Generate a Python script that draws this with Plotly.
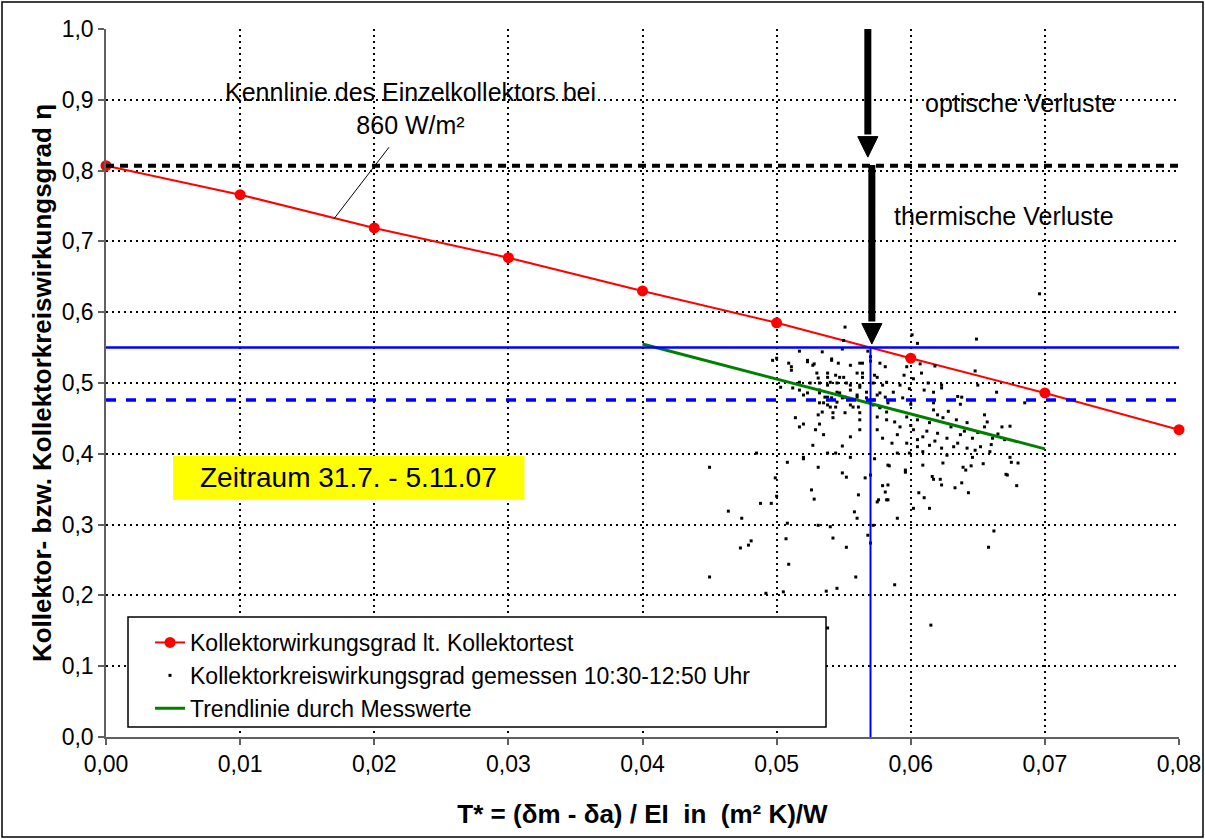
import plotly.graph_objects as go

# ---- data ----
test_x = [0.00, 0.01, 0.02, 0.03, 0.04, 0.05, 0.06, 0.07, 0.08]
test_eta = [0.807, 0.766, 0.719, 0.677, 0.630, 0.585, 0.535, 0.486, 0.434]

trend_x = [0.04, 0.07]
trend_eta = [0.555, 0.407]

meas_x = [
    0.0551, 0.0649, 0.0605, 0.0517, 0.0534, 0.0549, 0.0500, 0.0509, 0.0523, 0.0541,
    0.0528, 0.0555, 0.0562, 0.0570, 0.0581, 0.0597, 0.0608, 0.0648, 0.0511, 0.0538,
    0.0547, 0.0564, 0.0575, 0.0531, 0.0517, 0.0525, 0.0540, 0.0552, 0.0562, 0.0582,
    0.0592, 0.0623, 0.0503, 0.0512, 0.0532, 0.0545, 0.0555, 0.0567, 0.0577, 0.0587,
    0.0617, 0.0520, 0.0538, 0.0549, 0.0560, 0.0572, 0.0583, 0.0594, 0.0638, 0.0664,
    0.0685, 0.0535, 0.0540, 0.0557, 0.0545, 0.0577, 0.0617, 0.0617, 0.0514, 0.0531,
    0.0542, 0.0551, 0.0562, 0.0575, 0.0582, 0.0597, 0.0605, 0.0614, 0.0624, 0.0634,
    0.0642, 0.0657, 0.0668, 0.0674, 0.0517, 0.0529, 0.0562, 0.0575, 0.0590, 0.0602,
    0.0609, 0.0620, 0.0627, 0.0637, 0.0646, 0.0661, 0.0535, 0.0555, 0.0579, 0.0527,
    0.0586, 0.0597, 0.0605, 0.0614, 0.0623, 0.0632, 0.0642, 0.0652, 0.0659, 0.0590,
    0.0599, 0.0609, 0.0627, 0.0646, 0.0674, 0.0508, 0.0520, 0.0538, 0.0555, 0.0531,
    0.0583, 0.0596, 0.0609, 0.0624, 0.0639, 0.0675, 0.0680, 0.0549, 0.0552, 0.0570,
    0.0617, 0.0622, 0.0623, 0.0638, 0.0672, 0.0679, 0.0579, 0.0583, 0.0581, 0.0526,
    0.0561, 0.0606, 0.0610, 0.0643, 0.0583, 0.0575, 0.0614, 0.0560, 0.0590, 0.0499,
    0.0488, 0.0496, 0.0500, 0.0520, 0.0532, 0.0549, 0.0485, 0.0544, 0.0450, 0.0520,
    0.0566, 0.0528, 0.0464, 0.0474, 0.0508, 0.0531, 0.0540, 0.0568, 0.0572, 0.0570,
    0.0507, 0.0542, 0.0552, 0.0481, 0.0473, 0.0509, 0.0450, 0.0559, 0.0588, 0.0492,
    0.0505, 0.0537, 0.0545, 0.0538, 0.0576, 0.0582, 0.0573, 0.0584, 0.0596, 0.0602,
    0.0662, 0.0658, 0.0615, 0.0696, 0.0601, 0.0607, 0.0641, 0.0645, 0.0654, 0.0671,
    0.0616, 0.0633, 0.0595, 0.0602, 0.0618, 0.0613, 0.0610, 0.0623, 0.0635, 0.0650,
    0.0637, 0.0628, 0.0620, 0.0655, 0.0599, 0.0600, 0.0497, 0.0511, 0.0523, 0.0527,
    0.0541, 0.0546, 0.0564, 0.0570, 0.0577, 0.0530, 0.0538, 0.0544, 0.0550, 0.0560,
    0.0564, 0.0573, 0.0532, 0.0538, 0.0545, 0.0555, 0.0562, 0.0572, 0.0579, 0.0517,
    0.0523, 0.0532, 0.0536, 0.0541, 0.0547, 0.0551, 0.0560, 0.0567, 0.0575, 0.0581,
    0.0532, 0.0538, 0.0544, 0.0555, 0.0561, 0.0572, 0.0577, 0.0534, 0.0542, 0.0562,
    0.0582, 0.0600, 0.0612, 0.0630, 0.0640, 0.0650, 0.0655, 0.0665, 0.0605, 0.0618,
    0.0635, 0.0648, 0.0660, 0.0670, 0.0592, 0.0588, 0.0479, 0.0550, 0.0568, 0.0558,
]
meas_eta = [
    0.579, 0.562, 0.556, 0.545, 0.544, 0.548, 0.535, 0.528, 0.530, 0.532,
    0.527, 0.525, 0.528, 0.531, 0.523, 0.523, 0.514, 0.517, 0.518, 0.514,
    0.508, 0.514, 0.508, 0.507, 0.501, 0.500, 0.501, 0.500, 0.497, 0.501,
    0.497, 0.497, 0.494, 0.493, 0.490, 0.487, 0.490, 0.487, 0.486, 0.487,
    0.487, 0.483, 0.480, 0.479, 0.480, 0.476, 0.472, 0.479, 0.480, 0.487,
    0.472, 0.472, 0.466, 0.466, 0.473, 0.466, 0.472, 0.462, 0.451, 0.455,
    0.451, 0.458, 0.448, 0.452, 0.448, 0.452, 0.448, 0.444, 0.451, 0.448,
    0.444, 0.445, 0.438, 0.439, 0.438, 0.434, 0.434, 0.434, 0.427, 0.434,
    0.424, 0.429, 0.422, 0.427, 0.422, 0.422, 0.427, 0.424, 0.422, 0.412,
    0.415, 0.415, 0.410, 0.412, 0.408, 0.410, 0.408, 0.410, 0.403, 0.401,
    0.401, 0.403, 0.398, 0.395, 0.395, 0.388, 0.395, 0.401, 0.395, 0.381,
    0.384, 0.377, 0.384, 0.387, 0.381, 0.388, 0.387, 0.373, 0.367, 0.370,
    0.364, 0.364, 0.356, 0.359, 0.370, 0.355, 0.355, 0.356, 0.346, 0.349,
    0.342, 0.345, 0.338, 0.345, 0.335, 0.332, 0.323, 0.309, 0.309, 0.366,
    0.330, 0.330, 0.340, 0.442, 0.442, 0.411, 0.401, 0.401, 0.381, 0.393,
    0.366, 0.336, 0.319, 0.309, 0.302, 0.299, 0.297, 0.285, 0.299, 0.274,
    0.280, 0.281, 0.268, 0.277, 0.267, 0.244, 0.226, 0.226, 0.215, 0.203,
    0.205, 0.206, 0.210, 0.154, 0.335, 0.335, 0.393, 0.383, 0.374, 0.323,
    0.291, 0.268, 0.158, 0.626, 0.568, 0.527, 0.377, 0.383, 0.386, 0.371,
    0.368, 0.352, 0.511, 0.506, 0.524, 0.500, 0.490, 0.493, 0.481, 0.497,
    0.470, 0.460, 0.455, 0.455, 0.492, 0.470, 0.532, 0.523, 0.532, 0.525,
    0.534, 0.528, 0.528, 0.537, 0.528, 0.514, 0.508, 0.511, 0.508, 0.514,
    0.508, 0.511, 0.500, 0.497, 0.500, 0.497, 0.494, 0.500, 0.497, 0.490,
    0.486, 0.486, 0.480, 0.479, 0.486, 0.480, 0.483, 0.479, 0.483, 0.480,
    0.472, 0.469, 0.466, 0.469, 0.466, 0.469, 0.465, 0.459, 0.458, 0.458,
    0.459, 0.440, 0.432, 0.438, 0.432, 0.430, 0.438, 0.428, 0.420, 0.418,
    0.415, 0.405, 0.413, 0.420, 0.438, 0.445, 0.271, 0.560, 0.545, 0.318,
]

x_ticks = [0.00, 0.01, 0.02, 0.03, 0.04, 0.05, 0.06, 0.07, 0.08]
y_ticks = [0.0, 0.1, 0.2, 0.3, 0.4, 0.5, 0.6, 0.7, 0.8, 0.9, 1.0]

optical_level = 0.807
op_eta = 0.55
op_eta_meas = 0.476
op_tstar = 0.057

FONT = "Arial, Liberation Sans, sans-serif"

fig = go.Figure()

fig.add_trace(go.Scatter(
    x=test_x, y=test_eta, mode="lines+markers",
    name="Kollektorwirkungsgrad lt. Kollektortest",
    line=dict(color="#ff0000", width=2),
    marker=dict(color="#ff0000", size=11),
    cliponaxis=False, legendgroup="a",
))
fig.add_trace(go.Scatter(
    x=meas_x, y=meas_eta, mode="markers",
    name="Kollektorkreiswirkungsgrad gemessen 10:30-12:50 Uhr",
    marker=dict(color="black", size=3, symbol="square"),
    legendgroup="b",
))
fig.add_trace(go.Scatter(
    x=trend_x, y=trend_eta, mode="lines",
    name="Trendlinie durch Messwerte",
    line=dict(color="#008000", width=3),
    legendgroup="c",
))

shapes = []
shapes.append(dict(type="line", xref="paper", yref="y", x0=0, x1=1, y0=optical_level, y1=optical_level,
                   line=dict(color="black", width=4, dash="8px,6px")))
shapes.append(dict(type="line", xref="paper", yref="y", x0=0, x1=1, y0=op_eta, y1=op_eta,
                   line=dict(color="#0000ff", width=2.5)))
shapes.append(dict(type="line", xref="paper", yref="y", x0=0, x1=1, y0=op_eta_meas, y1=op_eta_meas,
                   line=dict(color="#0000ff", width=3.5, dash="10px,10px")))
shapes.append(dict(type="line", xref="x", yref="y", x0=op_tstar, x1=op_tstar, y0=0, y1=op_eta,
                   line=dict(color="#0000ff", width=2)))

hw = 0.00075
def arrow(xc, y_top, y_shaft_end, y_tip):
    shapes.append(dict(type="line", xref="x", yref="y", x0=xc, x1=xc, y0=y_top, y1=y_shaft_end + 0.003,
                       line=dict(color="black", width=7)))
    shapes.append(dict(type="path", xref="x", yref="y",
                       path=f"M {xc-hw},{y_shaft_end} L {xc+hw},{y_shaft_end} L {xc},{y_tip} Z",
                       fillcolor="black", line=dict(color="black", width=1)))
arrow(0.0568, 1.0, 0.848, 0.819)
arrow(0.0571, 0.808, 0.584, 0.555)

shapes.append(dict(type="line", xref="x", yref="y", x0=0.0170, y0=0.732, x1=0.0211, y1=0.833,
                   line=dict(color="black", width=1)))

shapes.append(dict(type="rect", xref="x", yref="y", x0=0.0050, x1=0.0312, y0=0.335, y1=0.397,
                   fillcolor="#ffff00", line=dict(width=0)))

shapes.append(dict(type="rect", xref="paper", yref="paper",
                   x0=(128 - 106) / 1073, x1=(826 - 106) / 1073,
                   y0=(737 - 727) / 708, y1=(737 - 617) / 708,
                   fillcolor="white", line=dict(color="black", width=1.5)))

shapes.append(dict(type="rect", xref="paper", yref="paper",
                   x0=(2 - 106) / 1073, x1=(1203 - 106) / 1073,
                   y0=(737 - 837) / 708, y1=(737 - 2) / 708,
                   line=dict(color="black", width=1.5), fillcolor="rgba(0,0,0,0)"))

annotations = [
    dict(x=0.0227, y=0.888, xref="x", yref="y", showarrow=False,
         text="Kennlinie des Einzelkollektors bei<br>860 W/m²",
         font=dict(family=FONT, size=25, color="black"), align="center"),
    dict(x=0.0609, y=0.895, xref="x", yref="y", showarrow=False, xanchor="left",
         text="optische Verluste", font=dict(family=FONT, size=25, color="black")),
    dict(x=0.0586, y=0.736, xref="x", yref="y", showarrow=False, xanchor="left",
         text="thermische Verluste", font=dict(family=FONT, size=25, color="black")),
    dict(x=0.0181, y=0.366, xref="x", yref="y", showarrow=False,
         text="Zeitraum 31.7. - 5.11.07", font=dict(family=FONT, size=28, color="black")),
]

axis_common = dict(
    automargin=False,
    showgrid=True, gridcolor="black", gridwidth=2, griddash="2px,4px",
    zeroline=False, showline=True, linecolor="#606060", linewidth=1.5,
    ticks="outside", ticklen=6, tickcolor="#606060", tickwidth=1.5,
    tickfont=dict(family=FONT, size=23, color="black"),
)

fig.update_layout(
    width=1205, height=839,
    margin=dict(l=106, r=26, t=29, b=102, autoexpand=False),
    paper_bgcolor="white", plot_bgcolor="white",
    separators=",.",
    xaxis=dict(range=[0, 0.08], tickvals=x_ticks, tickformat=".2f",
               title=dict(text="<b>T* = (δm - δa) / EI  in  (m² K)/W</b>",
                          font=dict(family=FONT, size=26, color="black"), standoff=28),
               **axis_common),
    yaxis=dict(range=[0, 1.0], tickvals=y_ticks, tickformat=".1f",
               title=dict(text="<b>Kollektor- bzw. Kollektorkreiswirkungsgrad η</b>",
                          font=dict(family=FONT, size=26, color="black"), standoff=3),
               **axis_common),
    shapes=shapes,
    annotations=annotations,
    showlegend=True,
    legend=dict(x=(150 - 106) / 1073, y=(737 - 621) / 708, xanchor="left", yanchor="top",
                bgcolor="rgba(0,0,0,0)", borderwidth=0, tracegroupgap=0,
                font=dict(family=FONT, size=23, color="black")),
)

fig.write_html("out.html", config={"displayModeBar": False},
               post_script="document.body.style.margin='0';document.body.style.padding='0';")
